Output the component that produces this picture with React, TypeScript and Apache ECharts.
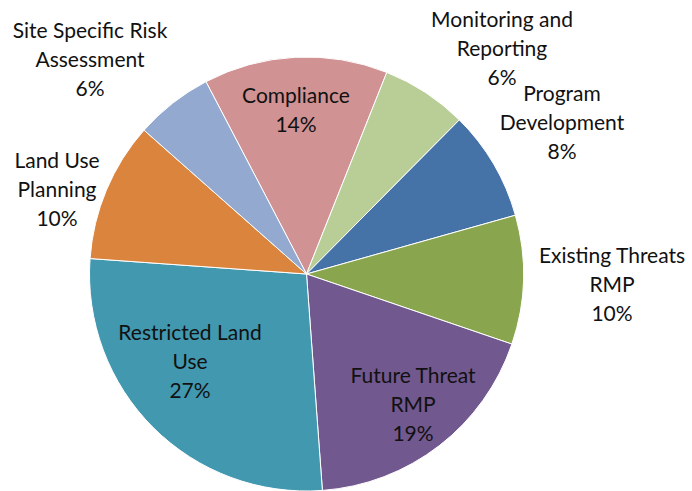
import React, { useEffect, useRef } from "react";
import * as echarts from "echarts";

// Slice categories in clockwise order
const categories = [
  "Compliance",
  "Monitoring and Reporting",
  "Program Development",
  "Existing Threats RMP",
  "Future Threat RMP",
  "Restricted Land Use",
  "Land Use Planning",
  "Site Specific Risk Assessment",
];

// Label text (with the line breaks used in the picture)
const labelTexts = [
  "Compliance",
  "Monitoring and\nReporting",
  "Program\nDevelopment",
  "Existing Threats\nRMP",
  "Future Threat\nRMP",
  "Restricted Land\nUse",
  "Land Use\nPlanning",
  "Site Specific Risk\nAssessment",
];

// Shares (percent)
const values = [13.7, 6.4, 8.2, 9.6, 18.6, 27.3, 10.4, 5.8];

const colors = [
  "#D09292",
  "#B9CD96",
  "#4572A7",
  "#89A54E",
  "#71588F",
  "#4198AF",
  "#DB843D",
  "#93A9CF",
];

// Label block centres (layout only)
const labelCenters: [number, number][] = [
  [296, 109],
  [502, 47],
  [562, 121],
  [612, 283],
  [413, 403],
  [190, 360],
  [57, 188],
  [90, 58],
];

export default function App() {
  const ref = useRef<HTMLDivElement>(null);
  useEffect(() => {
    if (!ref.current) return;
    const chart = echarts.init(ref.current, undefined, { renderer: "svg" });
    chart.setOption({
      animation: false,
      backgroundColor: "#ffffff",
      series: [
        {
          type: "pie",
          center: [306.5, 274],
          radius: 217,
          startAngle: 117.6,
          clockwise: true,
          avoidLabelOverlap: false,
          itemStyle: { borderColor: "#ffffff", borderWidth: 1 },
          label: {
            show: true,
            position: "inside",
            fontFamily: "Lato",
            fontSize: 21,
            lineHeight: 29,
            color: "#111111",
            align: "center",
            formatter: (p: any) =>
              `${labelTexts[p.dataIndex]}\n${Math.round(p.value)}%`,
          },
          labelLine: { show: false },
          labelLayout: (p: any) => ({
            x: labelCenters[p.dataIndex][0],
            y: labelCenters[p.dataIndex][1],
            align: "center",
            verticalAlign: "middle",
          }),
          data: categories.map((name, i) => ({
            name,
            value: values[i],
            itemStyle: { color: colors[i] },
          })),
        },
      ],
    });
    return () => chart.dispose();
  }, []);
  return (
    <div
      ref={ref}
      style={{ position: "fixed", left: 0, top: 0, width: 692, height: 491 }}
    />
  );
}
